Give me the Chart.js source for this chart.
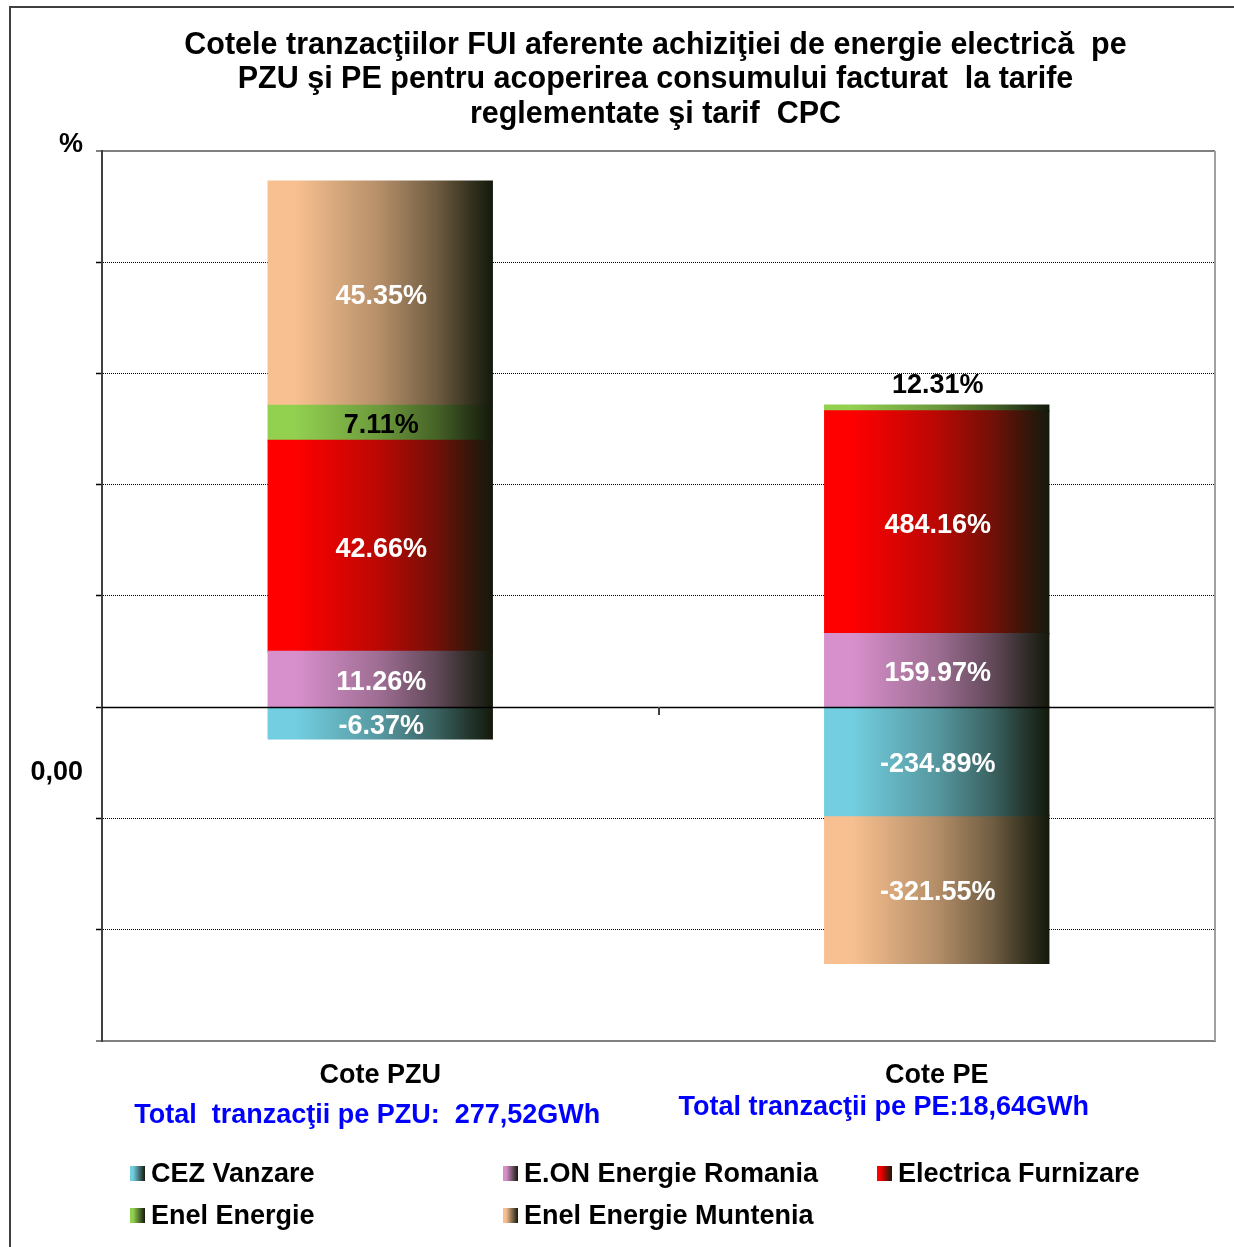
<!DOCTYPE html>
<html><head><meta charset="utf-8">
<script src="https://cdn.jsdelivr.net/npm/chart.js@4.4.1/dist/chart.umd.min.js"></script>
<style>
html,body{margin:0;padding:0;background:#fff;overflow:hidden;}
#wrap{position:relative;width:1234px;height:1247px;overflow:hidden;}
#frame{position:absolute;left:9px;top:6px;width:1400px;height:1400px;border-left:2px solid #404040;border-top:2px solid #404040;box-sizing:border-box;}
canvas{position:absolute;left:0;top:0;}
#legend{position:absolute;left:130px;top:1152px;display:grid;grid-template-columns:373px 374px 320px;grid-auto-rows:42px;align-items:center;font:bold 27px "Liberation Sans",Arial,sans-serif;color:#000;}
.item{display:flex;align-items:center;white-space:nowrap;}
.box{width:15px;height:15px;margin-right:6px;flex:none;}
</style></head>
<body><div id="wrap"><div id="frame"></div><canvas id="c" width="1234" height="1247"></canvas><div id="legend"></div></div>
<script>
// ---- data ----
const categories = ['Cote PZU', 'Cote PE'];
const companies = ['CEZ Vanzare', 'E.ON Energie Romania', 'Electrica Furnizare', 'Enel Energie', 'Enel Energie Muntenia'];
const pzuShares = [-6.37, 11.26, 42.66, 7.11, 45.35];
const peShares = [-234.89, 159.97, 484.16, 12.31, -321.55];
const totalsText = ['Total  tranzacţii pe PZU:  277,52GWh', 'Total tranzacţii pe PE:18,64GWh'];
const titleLines = ['Cotele tranzacţiilor FUI aferente achiziţiei de energie electrică  pe', 'PZU şi PE pentru acoperirea consumului facturat  la tarife', 'reglementate şi tarif  CPC'];
const pzuAxis = {min: -67.5, max: 112.5, step: 22.5};
const peAxis = {min: -725, max: 1209};
const axisUnitLabel = '%';
const axisZeroLabel = '0,00';

// ---- styles ----
const baseColors = ['#72CEE0', '#D890CC', '#FF0000', '#92D050', '#F8C090'];
const darkColor = '#141a0c';
const labelColors = ['#ffffff', '#ffffff', '#ffffff', '#000000', '#ffffff'];
const FONT = '"Liberation Sans", Arial, Helvetica, sans-serif';
const BAR_PCT = 0.4025;
const totalsOffset = [{dx: -13, dy: 74}, {dx: -53, dy: 66}];

function hexToRgb(h){h=h.replace('#','');return [parseInt(h.substr(0,2),16),parseInt(h.substr(2,2),16),parseInt(h.substr(4,2),16)];}
function mix(a,b,t){const A=hexToRgb(a),B=hexToRgb(b);return 'rgb('+A.map((v,i)=>Math.round(v+(B[i]-v)*t)).join(',')+')';}
const gradStops = [[0,0],[0.12,0],[0.5,0.3],[0.75,0.6],[0.9,0.85],[1,1]];

function barGradient(c, i){
  const chart = c.chart, area = chart.chartArea, base = baseColors[i];
  if (!area || c.dataIndex === undefined || !chart.scales.x) return base;
  const cx = chart.scales.x.getPixelForValue(c.dataIndex);
  const w = (area.right - area.left) / categories.length * BAR_PCT;
  if (!isFinite(cx) || !isFinite(w)) return base;
  const g = chart.ctx.createLinearGradient(cx - w/2, 0, cx + w/2, 0);
  gradStops.forEach(([p,t]) => g.addColorStop(p, mix(base, darkColor, t)));
  return g;
}

const datasets = [];
companies.forEach((name, i) => datasets.push({label: name, data: [pzuShares[i], null], yAxisID: 'y', backgroundColor: c => barGradient(c, i), labelColor: labelColors[i]}));
companies.forEach((name, i) => datasets.push({label: name, data: [null, peShares[i]], yAxisID: 'y2', backgroundColor: c => barGradient(c, i), labelColor: labelColors[i]}));

const isEdge = c => c.tick && (c.tick.value === pzuAxis.min || c.tick.value === pzuAxis.max);

const overlay = {
  id: 'overlay',
  afterDatasetsDraw(chart){
    const ctx = chart.ctx, area = chart.chartArea, ys = chart.scales.y, xs = chart.scales.x;
    const z = Math.round(ys.getPixelForValue(0));
    ctx.save();
    ctx.strokeStyle = '#000'; ctx.lineWidth = 1.5;
    ctx.beginPath(); ctx.moveTo(area.left, z + 0.5); ctx.lineTo(area.right, z + 0.5); ctx.stroke();
    const mx = Math.round(xs.getPixelForValue(0.5));
    ctx.strokeStyle = '#404040'; ctx.lineWidth = 2;
    ctx.beginPath(); ctx.moveTo(mx, z); ctx.lineTo(mx, z + 8); ctx.stroke();
    ctx.strokeStyle = '#a0a0a0'; ctx.lineWidth = 2;
    ctx.beginPath(); ctx.moveTo(area.right, area.top); ctx.lineTo(area.right, area.bottom); ctx.stroke();
    ctx.font = 'bold 27px ' + FONT; ctx.textAlign = 'center'; ctx.textBaseline = 'middle';
    chart.data.datasets.forEach((ds, di) => {
      const meta = chart.getDatasetMeta(di);
      meta.data.forEach((el, idx) => {
        const v = ds.data[idx]; if (v === null || v === undefined) return;
        const top = Math.min(el.y, el.base), h = Math.abs(el.base - el.y);
        let y = (el.y + el.base) / 2, col = ds.labelColor;
        if (h < 24) { y = top - 23; col = '#000'; }
        ctx.fillStyle = col;
        ctx.fillText(v.toFixed(2) + '%', el.x + 1, y + 3);
      });
    });
    ctx.restore();
  },
  afterDraw(chart){
    const ctx = chart.ctx, area = chart.chartArea, ys = chart.scales.y, xs = chart.scales.x;
    ctx.save();
    ctx.font = 'bold 27px ' + FONT; ctx.textBaseline = 'middle';
    ctx.fillStyle = '#0000FF'; ctx.textAlign = 'center';
    totalsText.forEach((t, i) => ctx.fillText(t, xs.getPixelForValue(i) + totalsOffset[i].dx, area.bottom + totalsOffset[i].dy + 1));
    ctx.fillStyle = '#000'; ctx.textAlign = 'right';
    ctx.fillText(axisUnitLabel, area.left - 19, area.top - 6);
    ctx.fillText(axisZeroLabel, area.left - 19, ys.getPixelForValue(0) + 65);
    ctx.restore();
  }
};

new Chart(document.getElementById('c'), {
  type: 'bar',
  data: {labels: categories, datasets},
  options: {
    responsive: false, animation: false,
    layout: {padding: {left: 96, right: 19, top: 10, bottom: 146}},
    datasets: {bar: {categoryPercentage: 1, barPercentage: BAR_PCT, borderWidth: 0, inflateAmount: 0.7}},
    plugins: {
      legend: {display: false}, tooltip: {enabled: false},
      title: {display: true, text: titleLines, color: '#000', font: {family: FONT, size: 30.5, weight: 'bold', lineHeight: 1.13}, padding: {top: 18, bottom: 19.5}}
    },
    scales: {
      x: {stacked: true, offset: true, grid: {display: false, drawTicks: false}, border: {display: true, color: '#808080', width: 2},
          ticks: {color: '#000', font: {family: FONT, size: 27, weight: 'bold'}, padding: 18}, afterFit: s => { s.height = 60; }},
      y: {type: 'linear', position: 'left', stacked: true, min: pzuAxis.min, max: pzuAxis.max,
          ticks: {display: false, stepSize: pzuAxis.step},
          grid: {color: c => isEdge(c) ? '#808080' : '#000', lineWidth: c => isEdge(c) ? 2 : 1, tickColor: c => isEdge(c) ? '#808080' : '#000', tickWidth: c => isEdge(c) ? 2 : 1.5, tickLength: 6, drawTicks: true},
          border: {display: true, color: '#404040', width: 2, dash: c => (c.tick && !isEdge(c) && c.tick.value !== 0) ? [1, 1] : []},
          afterFit: s => { s.width = 6; }},
      y2: {type: 'linear', display: false, stacked: true, min: peAxis.min, max: peAxis.max}
    }
  },
  plugins: [overlay]
});

const lg = document.getElementById('legend');
companies.forEach((name, i) => {
  const it = document.createElement('div'); it.className = 'item';
  const b = document.createElement('span'); b.className = 'box';
  b.style.background = 'linear-gradient(to right,' + baseColors[i] + ' 0%,' + baseColors[i] + ' 20%,' + darkColor + ' 100%)';
  const t = document.createElement('span'); t.textContent = name;
  it.appendChild(b); it.appendChild(t); lg.appendChild(it);
});
</script></body></html>
